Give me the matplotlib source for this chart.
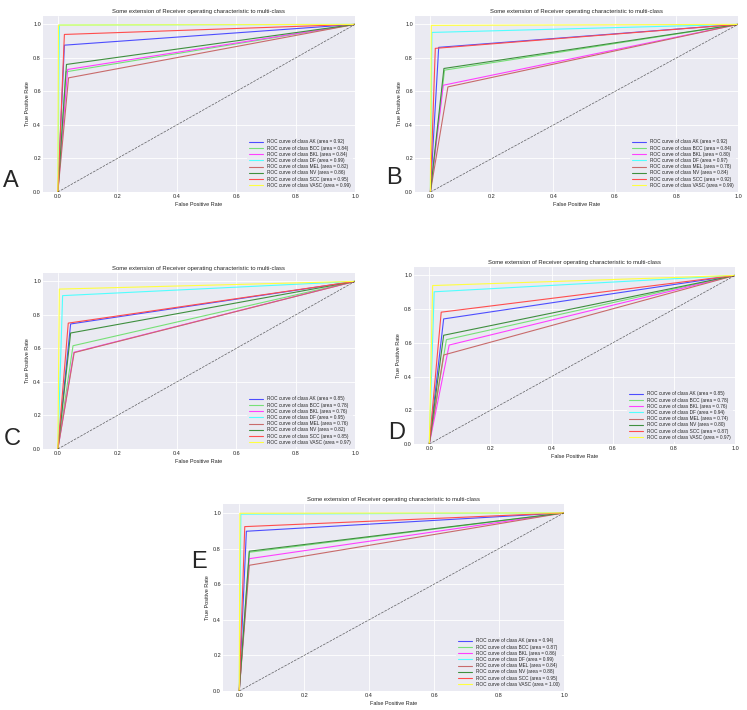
import matplotlib
matplotlib.use('Agg')
import matplotlib.pyplot as plt

plt.style.use('seaborn-v0_8-darkgrid')

classes = ['AK', 'BCC', 'BKL', 'DF', 'MEL', 'NV', 'SCC', 'VASC']
colors = ['#4d4dff', '#77e077', '#ff40ff', '#50ffff', '#c86b6b', '#3f8f3f', '#ff4d4d', '#ffff40']

# operating point (fpr, tpr) of each class per panel, plus reported AUC
fpr_a = [0.022, 0.027, 0.033, 0.005, 0.036, 0.029, 0.022, 0.002]
tpr_a = [0.876, 0.717, 0.731, 0.996, 0.681, 0.761, 0.940, 0.996]
auc_a = [0.92, 0.84, 0.84, 0.99, 0.82, 0.86, 0.95, 0.99]

fpr_b = [0.027, 0.046, 0.042, 0.005, 0.057, 0.044, 0.016, 0.003]
tpr_b = [0.863, 0.727, 0.637, 0.952, 0.627, 0.737, 0.857, 0.994]
auc_b = [0.92, 0.84, 0.80, 0.97, 0.78, 0.84, 0.92, 0.99]

fpr_c = [0.043, 0.051, 0.054, 0.016, 0.055, 0.043, 0.035, 0.005]
tpr_c = [0.746, 0.616, 0.577, 0.915, 0.575, 0.692, 0.751, 0.954]
auc_c = [0.85, 0.78, 0.76, 0.95, 0.76, 0.82, 0.85, 0.97]

fpr_d = [0.047, 0.056, 0.065, 0.016, 0.047, 0.047, 0.039, 0.011]
tpr_d = [0.742, 0.619, 0.587, 0.903, 0.528, 0.645, 0.782, 0.940]
auc_d = [0.85, 0.78, 0.76, 0.94, 0.74, 0.80, 0.87, 0.97]

fpr_e = [0.022, 0.031, 0.031, 0.005, 0.031, 0.031, 0.017, 0.002]
tpr_e = [0.897, 0.779, 0.743, 0.993, 0.706, 0.785, 0.923, 0.998]
auc_e = [0.94, 0.87, 0.86, 0.99, 0.84, 0.88, 0.95, 1.00]

panels = [
    ('A', [43, 16, 355, 192], (3, 187), fpr_a, tpr_a, auc_a),
    ('B', [415, 16, 738, 192], (386, 184), fpr_b, tpr_b, auc_b),
    ('C', [43, 273, 355, 449], (4, 445), fpr_c, tpr_c, auc_c),
    ('D', [414, 267, 735, 444], (388, 439), fpr_d, tpr_d, auc_d),
    ('E', [223, 504, 564, 691], (191, 568), fpr_e, tpr_e, auc_e),
]

W, H = 747, 710
fig = plt.figure(figsize=(W / 100, H / 100), dpi=100)

for letter, box, lpos, fpr, tpr, auc in panels:
    x0, y0, x1, y1 = box
    ax = fig.add_axes([x0 / W, 1 - y1 / H, (x1 - x0) / W, (y1 - y0) / H])
    for i, c in enumerate(classes):
        ax.plot([0, fpr[i], 1], [0, tpr[i], 1], color=colors[i], lw=0.8,
                label='ROC curve of class {0} (area = {1:0.2f})'.format(c, auc[i]))
    ax.plot([0, 1], [0, 1], 'k--', lw=0.5, alpha=0.6)
    ax.set_xlim([-0.05, 1.0])
    ax.set_ylim([0.0, 1.05])
    ax.set_xlabel('False Positive Rate', fontsize=4, labelpad=2)
    ax.set_ylabel('True Positive Rate', fontsize=4, labelpad=2)
    ax.set_title('Some extension of Receiver operating characteristic to multi-class', fontsize=4.2, pad=2)
    ax.tick_params(labelsize=4, pad=1.5, length=0)
    ax.grid(color='white', lw=0.6)
    ax.legend(loc='lower right', fontsize=3.4, handlelength=3, labelspacing=0.25,
              frameon=True, facecolor='#EAEAF2', edgecolor='none')
    fig.text(lpos[0] / W, 1 - lpos[1] / H, letter, fontsize=17, ha='left', va='baseline')

plt.savefig('out.png', dpi=100)
